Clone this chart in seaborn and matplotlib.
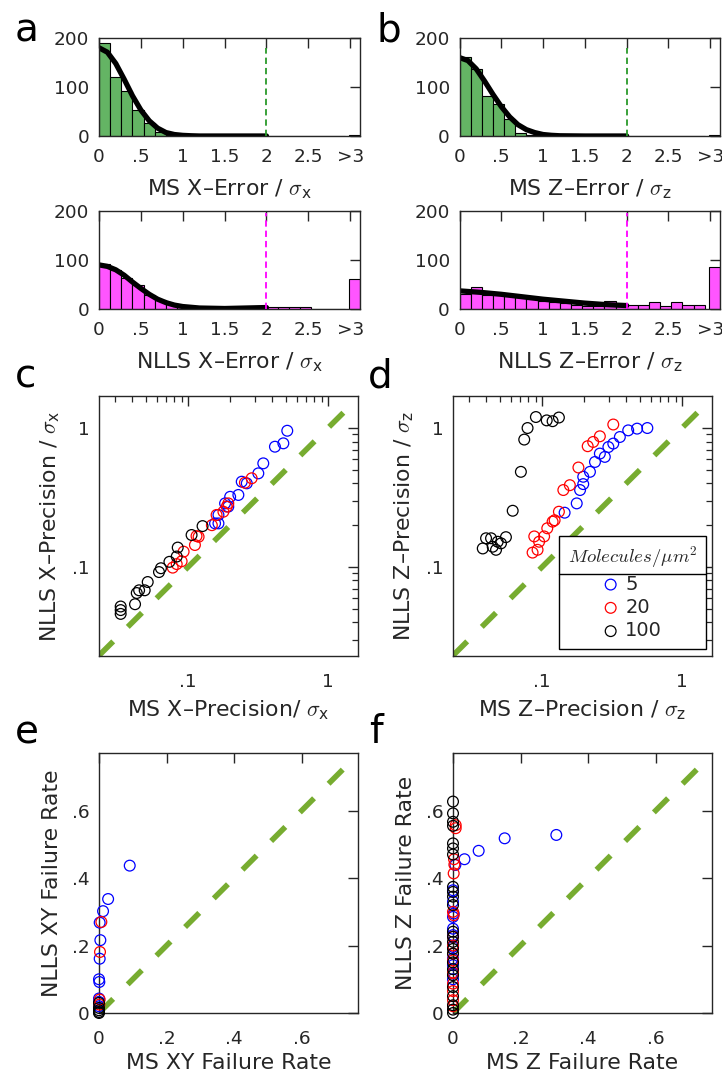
import numpy as np
import pandas as pd
import matplotlib
matplotlib.use("Agg")
import matplotlib.pyplot as plt
import seaborn as sns
from matplotlib.lines import Line2D
from matplotlib.ticker import FixedLocator, FixedFormatter, LogLocator, NullFormatter

sns.set_theme(style="white")
plt.rcParams["font.family"] = ["DejaVu Sans"]
plt.rcParams["mathtext.fontset"] = "cm"

# ---------------- histogram data (counts per bin of width 2/15, then the ">3" bin)
bin_width = 2 / 15
n_bins = 22
overflow_center = 3.05

ms_x_counts = [190, 120, 92, 53, 27, 8, 3, 1, 0, 0, 0, 0, 0, 0, 0, 0, 0, 0, 0, 0, 0, 0]
ms_x_over = 2
ms_z_counts = [162, 137, 82, 65, 35, 6, 2, 1, 0, 0, 0, 0, 0, 0, 0, 0, 0, 0, 0, 0, 0, 0]
ms_z_over = 2
nlls_x_counts = [91, 79, 64, 49, 28, 18, 11, 6, 3, 2, 1, 1, 2, 3, 7, 5, 5, 5, 5, 1, 1, 1]
nlls_x_over = 62
nlls_z_counts = [30, 44, 29, 28, 26, 24, 20, 16, 15, 12, 8, 7, 7, 16, 7, 8, 8, 14, 6, 14, 9, 9]
nlls_z_over = 85

# fitted curves (x, count)
ms_x_fit_x = [0, 0.1, 0.2, 0.3, 0.4, 0.5, 0.6, 0.7, 0.8, 0.9, 1.0, 1.1, 1.2, 1.5, 2.0]
ms_x_fit_y = [180, 171, 148, 116, 82, 53, 31, 16, 7, 3, 1.3, 0.5, 0, 0, 0]
ms_z_fit_x = [0, 0.1, 0.2, 0.3, 0.4, 0.5, 0.6, 0.7, 0.8, 0.9, 1.0, 1.1, 1.2, 1.5, 2.0]
ms_z_fit_y = [160, 154, 137, 112, 85, 60, 39, 23, 13, 7, 3, 1.4, 0.5, 0, 0]
nlls_x_fit_x = [0, 0.1, 0.2, 0.3, 0.4, 0.5, 0.6, 0.7, 0.8, 0.9, 1.0, 1.2, 1.5, 1.75, 2.0]
nlls_x_fit_y = [90, 87, 80, 69, 55, 42, 30, 20, 13, 8, 5, 2, 1, 2, 3]
nlls_z_fit_x = [0, 0.25, 0.5, 0.75, 1.0, 1.25, 1.5, 1.75, 2.0]
nlls_z_fit_y = [37, 34, 30, 25, 20, 16, 12, 9, 7]

hist_xticks = [0, 0.5, 1, 1.5, 2, 2.5, 3]
hist_xticklabels = ["0", ".5", "1", "1.5", "2", "2.5", ">3"]
hist_yticks = [0, 100, 200]

# ---------------- precision data (MS precision, NLLS precision) by density
densities = [5, 20, 100]
density_colors = ["#0000ff", "#ff0000", "#000000"]

xprec_ms_5 = [0.156, 0.165, 0.165, 0.184, 0.194, 0.2, 0.229, 0.242, 0.263, 0.318, 0.345, 0.418, 0.48, 0.512]
xprec_nlls_5 = [0.206, 0.206, 0.237, 0.287, 0.272, 0.32, 0.33, 0.411, 0.40, 0.472, 0.557, 0.734, 0.776, 0.956]
xprec_ms_20 = [0.0777, 0.083, 0.090, 0.093, 0.112, 0.115, 0.119, 0.148, 0.160, 0.179, 0.189, 0.194, 0.255, 0.285]
xprec_nlls_20 = [0.099, 0.105, 0.110, 0.129, 0.144, 0.167, 0.165, 0.200, 0.237, 0.25, 0.272, 0.287, 0.404, 0.435]
xprec_ms_100 = [0.033, 0.033, 0.033, 0.0418, 0.043, 0.0447, 0.049, 0.0515, 0.062, 0.064, 0.0736, 0.083, 0.0844, 0.106, 0.127]
xprec_nlls_100 = [0.046, 0.049, 0.052, 0.054, 0.065, 0.068, 0.068, 0.078, 0.092, 0.098, 0.109, 0.119, 0.138, 0.170, 0.197]

zprec_ms_5 = [0.145, 0.177, 0.187, 0.197, 0.197, 0.22, 0.239, 0.259, 0.281, 0.298, 0.323, 0.36, 0.413, 0.478, 0.566]
zprec_nlls_5 = [0.246, 0.287, 0.358, 0.395, 0.446, 0.484, 0.57, 0.655, 0.62, 0.73, 0.773, 0.862, 0.962, 0.99, 1.0]
zprec_ms_20 = [0.0856, 0.0929, 0.088, 0.0953, 0.1035, 0.109, 0.119, 0.123, 0.132, 0.142, 0.158, 0.182, 0.212, 0.232, 0.259, 0.323]
zprec_nlls_20 = [0.127, 0.133, 0.166, 0.152, 0.166, 0.190, 0.212, 0.217, 0.25, 0.358, 0.388, 0.52, 0.74, 0.794, 0.872, 1.06]
zprec_ms_100 = [0.0377, 0.0398, 0.0432, 0.0444, 0.0469, 0.0482, 0.0509, 0.0552, 0.0617, 0.0706, 0.0746, 0.0788, 0.0904, 0.108, 0.119, 0.132]
zprec_nlls_100 = [0.136, 0.161, 0.161, 0.140, 0.133, 0.152, 0.148, 0.164, 0.254, 0.484, 0.826, 1.0, 1.2, 1.135, 1.12, 1.19]

# ---------------- failure-rate data (MS rate, NLLS rate) by density
xyfail_ms_5 = [0.091, 0.027, 0.012, 0.002, 0.004, 0.002, 0.0, 0.001, 0.0, 0.0, 0.0]
xyfail_nlls_5 = [0.437, 0.338, 0.302, 0.268, 0.216, 0.161, 0.100, 0.092, 0.043, 0.033, 0.02]
xyfail_ms_20 = [0.007, 0.003, 0.002, 0.001]
xyfail_nlls_20 = [0.27, 0.181, 0.04, 0.025]
xyfail_ms_100 = [0.0, 0.0, 0.0, 0.0, 0.0]
xyfail_nlls_100 = [0.03, 0.015, 0.008, 0.003, 0.0]

zfail_ms_5 = [0.306, 0.153, 0.076, 0.034, 0.007, 0.0, 0.0, 0.002, 0.0, 0.0, 0.0, 0.0, 0.0, 0.0, 0.0, 0.0]
zfail_nlls_5 = [0.528, 0.518, 0.481, 0.456, 0.439, 0.364, 0.33, 0.295, 0.285, 0.25, 0.231, 0.196, 0.161, 0.142, 0.117, 0.10]
zfail_ms_20 = [0.008, 0.008, 0.003, 0.004, 0.002, 0.0, 0.002, 0.0, 0.0, 0.0, 0.0, 0.0, 0.0, 0.0, 0.0, 0.0]
zfail_nlls_20 = [0.557, 0.548, 0.456, 0.44, 0.414, 0.30, 0.29, 0.226, 0.20, 0.176, 0.156, 0.12, 0.087, 0.065, 0.038, 0.02]
zfail_ms_100 = [0.0] * 24
zfail_nlls_100 = [0.627, 0.592, 0.567, 0.555, 0.503, 0.488, 0.47, 0.374, 0.359, 0.345, 0.32, 0.241, 0.226,
                  0.211, 0.19, 0.176, 0.15, 0.13, 0.112, 0.077, 0.05, 0.023, 0.01, 0.0]

identity_log = [0.0231, 1.35]
identity_lin = [0.0, 0.735]

# ---------------- figure and layout
W, H = 722, 1078
fig = plt.figure(figsize=(W / 100, H / 100), dpi=100)
INK = "#262626"
GREEN_LINE = "#77ac30"
LABEL_SIZE = 15.8
TICK_SIZE = 13.3


def rect(x0, y0, x1, y1):
    return [x0 / W, 1 - y1 / H, (x1 - x0) / W, (y1 - y0) / H]


def style_axes(ax, xpad=7, ypad=7):
    for s in ax.spines.values():
        s.set_visible(True)
        s.set_color(INK)
        s.set_linewidth(1.0)
    ax.tick_params(which="both", direction="in", top=True, right=True,
                   colors=INK, labelcolor=INK, labelsize=TICK_SIZE)
    ax.tick_params(which="major", length=7, width=1)
    ax.tick_params(which="minor", length=4, width=0.9)
    ax.tick_params(axis="x", which="both", pad=xpad)
    ax.tick_params(axis="y", which="both", pad=ypad)
    ax.grid(False)


def hist_panel(r, counts, over, fit_x, fit_y, face, vcolor, vtop, xlabel):
    ax = fig.add_axes(r)
    edges = [i * bin_width for i in range(n_bins + 1)]
    centers = [(edges[i] + edges[i + 1]) / 2 for i in range(n_bins)]
    main = pd.DataFrame({"err": centers, "n": counts})
    extra = pd.DataFrame({"err": [overflow_center], "n": [over]})
    sns.histplot(data=main, x="err", weights="n", bins=edges, color=face, alpha=1,
                 edgecolor="black", linewidth=0.8, ax=ax)
    sns.histplot(data=extra, x="err", weights="n",
                 bins=[overflow_center - bin_width / 2, overflow_center + bin_width / 2],
                 color=face, alpha=1, edgecolor="black", linewidth=0.8, ax=ax)
    sns.lineplot(x=fit_x, y=fit_y, color="black", linewidth=3.8, ax=ax)
    ax.axvline(2, ymin=0, ymax=vtop, color=vcolor, linestyle=(0, (3.5, 2.2)), linewidth=1.3, zorder=5)
    ax.set_xlim(0, overflow_center + bin_width / 2)
    ax.set_ylim(0, 200)
    ax.set_xticks(hist_xticks)
    ax.set_xticklabels(hist_xticklabels)
    ax.set_yticks(hist_yticks)
    ax.set_ylabel("")
    ax.set_xlabel(xlabel, fontsize=LABEL_SIZE, color=INK, labelpad=8)
    style_axes(ax, xpad=8.5, ypad=7)
    return ax


hist_panel(rect(99, 38, 360, 136), ms_x_counts, ms_x_over, ms_x_fit_x, ms_x_fit_y,
           "#64b464", "#2a9a2a", 0.9, r"MS X–Error / $\sigma_{\mathregular{x}}$")
hist_panel(rect(459.5, 38, 720, 136), ms_z_counts, ms_z_over, ms_z_fit_x, ms_z_fit_y,
           "#64b464", "#2a9a2a", 0.9, r"MS Z–Error / $\sigma_{\mathregular{z}}$")
hist_panel(rect(99, 211, 360, 309), nlls_x_counts, nlls_x_over, nlls_x_fit_x, nlls_x_fit_y,
           "#ff55ff", "#ff00ff", 0.975, r"NLLS X–Error / $\sigma_{\mathregular{x}}$")
hist_panel(rect(459.5, 211, 720, 309), nlls_z_counts, nlls_z_over, nlls_z_fit_x, nlls_z_fit_y,
           "#ff55ff", "#ff00ff", 0.975, r"NLLS Z–Error / $\sigma_{\mathregular{z}}$")


def scatter_groups(ax, xs_list, ys_list, clip=True):
    for dens, col, xs, ys in zip(densities, density_colors, xs_list, ys_list):
        sns.scatterplot(x=xs, y=ys, ax=ax, s=60, facecolors="none", edgecolor=col,
                        linewidth=0.9, label=str(dens), legend=False, clip_on=clip, zorder=3)


def log_panel(r, xs_list, ys_list, xlabel, ylabel):
    ax = fig.add_axes(r)
    ax.set_xscale("log")
    ax.set_yscale("log")
    sns.lineplot(x=identity_log, y=identity_log, color=GREEN_LINE, linewidth=4,
                 linestyle=(0, (3.6, 3.7)), ax=ax, zorder=2)
    scatter_groups(ax, xs_list, ys_list)
    ax.set_xlim(0.0231, 1.64)
    ax.set_ylim(0.0229, 1.70)
    for axis in (ax.xaxis, ax.yaxis):
        axis.set_major_locator(FixedLocator([0.1, 1]))
        axis.set_major_formatter(FixedFormatter([".1", "1"]))
        axis.set_minor_locator(LogLocator(base=10, subs=np.arange(2, 10)))
        axis.set_minor_formatter(NullFormatter())
    ax.set_xlabel(xlabel, fontsize=LABEL_SIZE, color=INK, labelpad=5)
    ax.set_ylabel(ylabel, fontsize=LABEL_SIZE, color=INK, labelpad=7)
    style_axes(ax, xpad=12.5, ypad=7)
    return ax


def lin_panel(r, xs_list, ys_list, xlabel, ylabel):
    ax = fig.add_axes(r)
    sns.lineplot(x=identity_lin, y=identity_lin, color=GREEN_LINE, linewidth=4,
                 linestyle=(0, (3.6, 3.7)), ax=ax, zorder=2)
    scatter_groups(ax, xs_list, ys_list, clip=False)
    ax.set_xlim(0, 0.767)
    ax.set_ylim(0, 0.771)
    ticks = [0, 0.2, 0.4, 0.6]
    labels = ["0", ".2", ".4", ".6"]
    ax.set_xticks(ticks)
    ax.set_xticklabels(labels)
    ax.set_yticks(ticks)
    ax.set_yticklabels(labels)
    ax.set_xlabel(xlabel, fontsize=LABEL_SIZE, color=INK, labelpad=3)
    ax.set_ylabel(ylabel, fontsize=LABEL_SIZE, color=INK, labelpad=7)
    style_axes(ax, xpad=12.5, ypad=7)
    return ax


log_panel(rect(99, 396, 358, 656),
          [xprec_ms_5, xprec_ms_20, xprec_ms_100], [xprec_nlls_5, xprec_nlls_20, xprec_nlls_100],
          r"MS X–Precision/ $\sigma_{\mathregular{x}}$", r"NLLS X–Precision / $\sigma_{\mathregular{x}}$")
ax_d = log_panel(rect(453, 396, 712, 656),
                 [zprec_ms_5, zprec_ms_20, zprec_ms_100], [zprec_nlls_5, zprec_nlls_20, zprec_nlls_100],
                 r"MS Z–Precision / $\sigma_{\mathregular{z}}$", r"NLLS Z–Precision / $\sigma_{\mathregular{z}}$")
lin_panel(rect(99, 753, 358, 1013),
          [xyfail_ms_5, xyfail_ms_20, xyfail_ms_100], [xyfail_nlls_5, xyfail_nlls_20, xyfail_nlls_100],
          "MS XY Failure Rate", "NLLS XY Failure Rate")
lin_panel(rect(453, 753, 712, 1013),
          [zfail_ms_5, zfail_ms_20, zfail_ms_100], [zfail_nlls_5, zfail_nlls_20, zfail_nlls_100],
          "MS Z Failure Rate", "NLLS Z Failure Rate")

# density legend with a ruled title cell
leg = ax_d.legend(loc="lower right", bbox_to_anchor=(0.977, 0.027), borderaxespad=0,
                  title=r"$Molecules/\mu m^2$", fontsize=14, title_fontsize=13.5,
                  frameon=True, fancybox=False, edgecolor="black", framealpha=1,
                  handlelength=0.8, handletextpad=0.35, labelspacing=0.22, borderpad=0.45)
leg.get_frame().set_linewidth(1.0)
for t in leg.get_texts():
    t.set_color(INK)

# panel letters
for letter, (x, y) in zip("abcdef", [(15, 41), (376, 41), (15, 387), (368, 387), (15, 743), (369, 743)]):
    fig.text(x / W, 1 - y / H, letter, fontsize=28, ha="left", va="baseline", color="black")

fig.canvas.draw()
renderer = fig.canvas.get_renderer()
fb = leg.get_frame().get_window_extent(renderer)
tb = leg.get_title().get_window_extent(renderer)
ysep = tb.y0 - 4
fig.add_artist(Line2D([fb.x0 / W, fb.x1 / W], [ysep / H, ysep / H],
                      transform=fig.transFigure, color="black", linewidth=1.0))

fig.savefig("out.png", dpi=100)
